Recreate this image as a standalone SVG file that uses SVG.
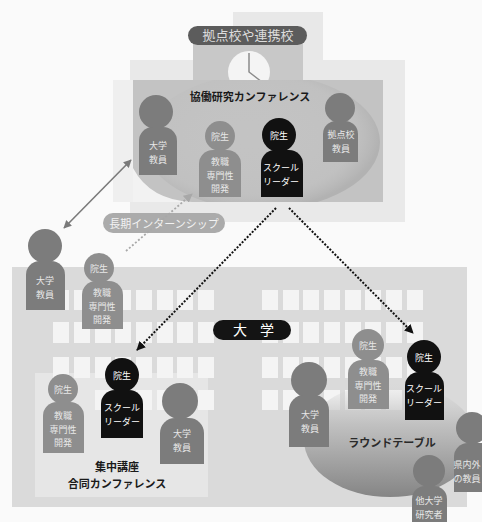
<svg xmlns="http://www.w3.org/2000/svg" width="482" height="522" viewBox="0 0 482 522">
  <style>
    text { font-family: "Noto Sans CJK JP", "Noto Sans", sans-serif; text-anchor: middle; }
    .lbl { font-size: 9px; fill: #e8e8e8; }
    .lbl-k { font-size: 9px; fill: #ffffff; }
    .mid { fill: #7c7c7c; }
    .light { fill: #8e8e8e; }
    .dark { fill: #111111; }
    .title { font-size: 11px; font-weight: bold; fill: #1a1a1a; }
    .win { fill: #f4f4f4; }
  </style>
  <defs>
    <marker id="ahGray" viewBox="0 0 10 10" refX="9" refY="5" markerWidth="5" markerHeight="5" orient="auto-start-reverse" markerUnits="strokeWidth">
      <path d="M0 0 L10 5 L0 10 Z" fill="#7a7a7a"/>
    </marker>
    <marker id="ahLight" viewBox="0 0 10 10" refX="9" refY="5" markerWidth="5" markerHeight="5" orient="auto" markerUnits="strokeWidth">
      <path d="M0 0 L10 5 L0 10 Z" fill="#a8a8a8"/>
    </marker>
    <marker id="ahBlack" viewBox="0 0 10 10" refX="9" refY="5" markerWidth="4.5" markerHeight="4.5" orient="auto" markerUnits="strokeWidth">
      <path d="M0 0 L10 5 L0 10 Z" fill="#111"/>
    </marker>
    <linearGradient id="tableGrad" x1="0" y1="0" x2="0" y2="1">
      <stop offset="0" stop-color="#d4d4d4" stop-opacity="0"/>
      <stop offset="0.35" stop-color="#c2c2c2"/>
      <stop offset="1" stop-color="#858585"/>
    </linearGradient>
    <radialGradient id="globeGrad" cx="0.45" cy="0.45" r="0.55">
      <stop offset="0" stop-color="#c4c4c4" stop-opacity="0"/>
      <stop offset="0.8" stop-color="#bdbdbd" stop-opacity="0.4"/>
      <stop offset="1" stop-color="#b2b2b2"/>
    </radialGradient>
    <clipPath id="panelClip">
      <rect x="133" y="80" width="250" height="122"/>
    </clipPath>
  </defs>

  <rect width="482" height="522" fill="#fafafa"/>

  <!-- partner school building -->
  <g id="school-building">
    <rect x="233" y="12" width="90" height="70" fill="#e8e8e8"/>
    <rect x="130" y="60" width="275" height="162" fill="#e9e9e9"/>
    <rect x="113" y="80" width="20" height="122" fill="#efefef"/>
    <rect x="193" y="42" width="110" height="40" fill="#c8c8c8"/>
    <circle cx="249" cy="72" r="21" fill="#f4f4f4"/>
    <path d="M249 53 V72 L262 82" fill="none" stroke="#8a8a8a" stroke-width="1.5"/>
    <rect x="133" y="80" width="250" height="122" fill="#c3c3c3"/>
    <g clip-path="url(#panelClip)">
      <ellipse cx="262" cy="142" rx="118" ry="68" fill="url(#globeGrad)"/>
      <path d="M133 168 Q150 200 192 202 L133 202 Z" fill="#f2f2f2"/>
    </g>
  </g>

  <!-- university building -->
  <g id="university-building">
    <rect x="12" y="267" width="455" height="240" fill="#dadada"/>
    <rect x="35" y="373" width="173" height="124" fill="#e6e6e6"/>
    <g id="windows">
      <g id="win-row-1">
        <rect class="win" x="53" y="290" width="16" height="20"/><rect class="win" x="74" y="290" width="16" height="20"/><rect class="win" x="95" y="290" width="16" height="20"/><rect class="win" x="115" y="290" width="16" height="20"/><rect class="win" x="136" y="290" width="16" height="20"/><rect class="win" x="157" y="290" width="16" height="20"/><rect class="win" x="177" y="290" width="16" height="20"/><rect class="win" x="198" y="290" width="16" height="20"/>
        <rect class="win" x="262" y="290" width="16" height="20"/><rect class="win" x="283" y="290" width="16" height="20"/><rect class="win" x="303" y="290" width="16" height="20"/><rect class="win" x="324" y="290" width="16" height="20"/><rect class="win" x="345" y="290" width="16" height="20"/><rect class="win" x="365" y="290" width="16" height="20"/><rect class="win" x="386" y="290" width="16" height="20"/><rect class="win" x="407" y="290" width="16" height="20"/>
      </g>
      <g id="win-row-2">
        <rect class="win" x="53" y="322" width="16" height="21"/><rect class="win" x="74" y="322" width="16" height="21"/><rect class="win" x="95" y="322" width="16" height="21"/><rect class="win" x="115" y="322" width="16" height="21"/><rect class="win" x="136" y="322" width="16" height="21"/><rect class="win" x="157" y="322" width="16" height="21"/><rect class="win" x="177" y="322" width="16" height="21"/><rect class="win" x="198" y="322" width="16" height="21"/>
        <rect class="win" x="262" y="322" width="16" height="21"/><rect class="win" x="283" y="322" width="16" height="21"/><rect class="win" x="303" y="322" width="16" height="21"/><rect class="win" x="324" y="322" width="16" height="21"/><rect class="win" x="345" y="322" width="16" height="21"/><rect class="win" x="365" y="322" width="16" height="21"/><rect class="win" x="386" y="322" width="16" height="21"/><rect class="win" x="407" y="322" width="16" height="21"/>
      </g>
      <g id="win-row-3">
        <rect class="win" x="53" y="357" width="16" height="21"/><rect class="win" x="74" y="357" width="16" height="21"/><rect class="win" x="95" y="357" width="16" height="21"/><rect class="win" x="115" y="357" width="16" height="21"/><rect class="win" x="136" y="357" width="16" height="21"/><rect class="win" x="157" y="357" width="16" height="21"/><rect class="win" x="177" y="357" width="16" height="21"/><rect class="win" x="198" y="357" width="16" height="21"/>
        <rect class="win" x="262" y="357" width="16" height="21"/><rect class="win" x="283" y="357" width="16" height="21"/><rect class="win" x="303" y="357" width="16" height="21"/><rect class="win" x="324" y="357" width="16" height="21"/><rect class="win" x="345" y="357" width="16" height="21"/><rect class="win" x="365" y="357" width="16" height="21"/><rect class="win" x="386" y="357" width="16" height="21"/><rect class="win" x="407" y="357" width="16" height="21"/>
      </g>
      <g id="win-row-4">
        <rect class="win" x="95" y="390" width="16" height="20"/><rect class="win" x="115" y="390" width="16" height="20"/><rect class="win" x="136" y="390" width="16" height="20"/><rect class="win" x="157" y="390" width="16" height="20"/><rect class="win" x="177" y="390" width="16" height="20"/><rect class="win" x="198" y="390" width="16" height="20"/>
        <rect class="win" x="262" y="390" width="16" height="20"/><rect class="win" x="283" y="390" width="16" height="20"/><rect class="win" x="303" y="390" width="16" height="20"/><rect class="win" x="324" y="390" width="16" height="20"/><rect class="win" x="345" y="390" width="16" height="20"/><rect class="win" x="365" y="390" width="16" height="20"/><rect class="win" x="386" y="390" width="16" height="20"/><rect class="win" x="407" y="390" width="16" height="20"/>
      </g>
    </g>
    <ellipse id="round-table" cx="390" cy="440" rx="86" ry="57" fill="url(#tableGrad)"/>
  </g>

  <!-- labels -->
  <g id="label-partner-schools">
    <rect x="188" y="26" width="119" height="19" rx="9.5" fill="#5c5c5c"/>
    <text x="248" y="40" style="font-size:13px;fill:#dcdcdc">拠点校や連携校</text>
  </g>
  <g id="label-internship">
    <rect x="103" y="213" width="122" height="20" rx="10" fill="#ababab"/>
    <text x="164" y="227.5" style="font-size:11px;fill:#f2f2f2">長期インターンシップ</text>
  </g>
  <g id="label-university">
    <rect x="213" y="320" width="78" height="20" rx="10" fill="#141414"/>
    <text x="233" y="335" style="font-size:14px;fill:#ffffff;text-anchor:start;letter-spacing:13px">大学</text>
  </g>
  <text id="title-joint-research" class="title" x="250" y="101">協働研究カンファレンス</text>
  <text id="title-round-table" class="title" x="392" y="447" style="fill:#2a2a2a">ラウンドテーブル</text>
  <text id="title-intensive" class="title" x="117" y="471">集中講座</text>
  <text id="title-joint-conf" class="title" x="117" y="488">合同カンファレンス</text>

  <!-- connectors -->
  <g id="connectors" fill="none">
    <line x1="64" y1="228" x2="131" y2="160" stroke="#7a7a7a" stroke-width="1.6" marker-start="url(#ahGray)" marker-end="url(#ahGray)"/>
    <line x1="126" y1="251" x2="192" y2="194" stroke="#a8a8a8" stroke-width="1.8" stroke-dasharray="2 2" marker-end="url(#ahLight)"/>
    <line x1="276" y1="208" x2="137" y2="350" stroke="#111" stroke-width="2" stroke-dasharray="2 1.6" marker-end="url(#ahBlack)"/>
    <line x1="289" y1="208" x2="413" y2="333" stroke="#111" stroke-width="2" stroke-dasharray="2 1.6" marker-end="url(#ahBlack)"/>
  </g>

  <!-- people at the joint research conference -->
  <g id="top-faculty">
    <circle class="mid" cx="156" cy="112" r="17"/>
    <path class="mid" d="M139 175 V141 A14 14 0 0 1 153 127 H163 A14 14 0 0 1 177 141 V175 Z"/>
    <text class="lbl" x="158" y="149">大学</text>
    <text class="lbl" x="158" y="162.5">教員</text>
  </g>
  <g id="top-grad-pd">
    <circle class="light" cx="220" cy="136" r="15"/>
    <path class="light" d="M199 197 V164 A14 14 0 0 1 213 150 H227 A14 14 0 0 1 241 164 V197 Z"/>
    <text class="lbl" x="220" y="139.5">院生</text>
    <text class="lbl" x="220" y="165">教職</text>
    <text class="lbl" x="220" y="178.5">専門性</text>
    <text class="lbl" x="220" y="192">開発</text>
  </g>
  <g id="top-grad-sl">
    <circle class="dark" cx="279" cy="135" r="17"/>
    <path class="dark" d="M261 197 V164 A14 14 0 0 1 275 150 H289 A14 14 0 0 1 303 164 V197 Z"/>
    <text class="lbl-k" x="279" y="138.5">院生</text>
    <text class="lbl-k" x="281" y="171">スクール</text>
    <text class="lbl-k" x="281" y="184.5">リーダー</text>
  </g>
  <g id="top-school-faculty">
    <circle class="mid" cx="340" cy="108" r="15"/>
    <path class="mid" d="M323 162 V134 A13 13 0 0 1 336 121 H345 A13 13 0 0 1 358 134 V162 Z"/>
    <text class="lbl" x="341" y="138">拠点校</text>
    <text class="lbl" x="341" y="151.5">教員</text>
  </g>

  <!-- people on the long internship -->
  <g id="intern-faculty">
    <circle class="mid" cx="45" cy="246" r="17"/>
    <path class="mid" d="M26 310 V275 A14 14 0 0 1 40 261 H51 A14 14 0 0 1 65 275 V310 Z"/>
    <text class="lbl" x="45" y="284">大学</text>
    <text class="lbl" x="45" y="297.5">教員</text>
  </g>
  <g id="intern-grad">
    <circle class="light" cx="99" cy="268" r="15"/>
    <path class="light" d="M82 329 V295 A14 14 0 0 1 96 281 H109 A14 14 0 0 1 123 295 V329 Z"/>
    <text class="lbl" x="99" y="271.5">院生</text>
    <text class="lbl" x="102" y="296">教職</text>
    <text class="lbl" x="102" y="309.5">専門性</text>
    <text class="lbl" x="102" y="323">開発</text>
  </g>

  <!-- intensive course / joint conference -->
  <g id="lec-grad-pd">
    <circle class="light" cx="63" cy="389" r="15"/>
    <path class="light" d="M43 453 V416 A14 14 0 0 1 57 402 H70 A14 14 0 0 1 84 416 V453 Z"/>
    <text class="lbl" x="63" y="392.5">院生</text>
    <text class="lbl" x="63" y="419">教職</text>
    <text class="lbl" x="63" y="432.5">専門性</text>
    <text class="lbl" x="63" y="446">開発</text>
  </g>
  <g id="lec-grad-sl">
    <circle class="dark" cx="122" cy="375" r="17"/>
    <path class="dark" d="M101 438 V404 A14 14 0 0 1 115 390 H129 A14 14 0 0 1 143 404 V438 Z"/>
    <text class="lbl-k" x="122" y="378.5">院生</text>
    <text class="lbl-k" x="122" y="411">スクール</text>
    <text class="lbl-k" x="122" y="424.5">リーダー</text>
  </g>
  <g id="lec-faculty">
    <circle class="mid" cx="180" cy="401" r="18"/>
    <path class="mid" d="M160 464 V433 A15 15 0 0 1 175 418 H189 A15 15 0 0 1 204 433 V464 Z"/>
    <text class="lbl" x="182" y="437">大学</text>
    <text class="lbl" x="182" y="450.5">教員</text>
  </g>

  <!-- round table -->
  <g id="rt-faculty">
    <circle class="mid" cx="309" cy="380" r="18"/>
    <path class="mid" d="M289 447 V410 A15 15 0 0 1 304 395 H314 A15 15 0 0 1 329 410 V447 Z"/>
    <text class="lbl" x="310" y="418">大学</text>
    <text class="lbl" x="310" y="431.5">教員</text>
  </g>
  <g id="rt-grad-pd">
    <circle class="light" cx="368" cy="345" r="16"/>
    <path class="light" d="M348 409 V374 A14 14 0 0 1 362 360 H375 A14 14 0 0 1 389 374 V409 Z"/>
    <text class="lbl" x="368" y="348.5">院生</text>
    <text class="lbl" x="368" y="375">教職</text>
    <text class="lbl" x="368" y="388.5">専門性</text>
    <text class="lbl" x="368" y="402">開発</text>
  </g>
  <g id="rt-grad-sl">
    <circle class="dark" cx="424" cy="357" r="17"/>
    <path class="dark" d="M405 420 V386 A14 14 0 0 1 419 372 H430 A14 14 0 0 1 444 386 V420 Z"/>
    <text class="lbl-k" x="424" y="360.5">院生</text>
    <text class="lbl-k" x="424" y="392">スクール</text>
    <text class="lbl-k" x="424" y="405.5">リーダー</text>
  </g>
  <g id="rt-prefecture-teacher">
    <circle class="mid" cx="472" cy="428" r="16"/>
    <path class="mid" d="M454 492 V457 A14 14 0 0 1 468 443 H481 A14 14 0 0 1 495 457 V492 Z"/>
    <text class="lbl" x="467" y="468">県内外</text>
    <text class="lbl" x="467" y="481.5">の教員</text>
  </g>
  <g id="rt-other-researcher">
    <circle class="mid" cx="429" cy="471" r="16"/>
    <path class="mid" d="M412 530 V499 A13 13 0 0 1 425 486 H434 A13 13 0 0 1 447 499 V530 Z"/>
    <text class="lbl" x="429" y="504">他大学</text>
    <text class="lbl" x="429" y="517.5">研究者</text>
  </g>
</svg>
